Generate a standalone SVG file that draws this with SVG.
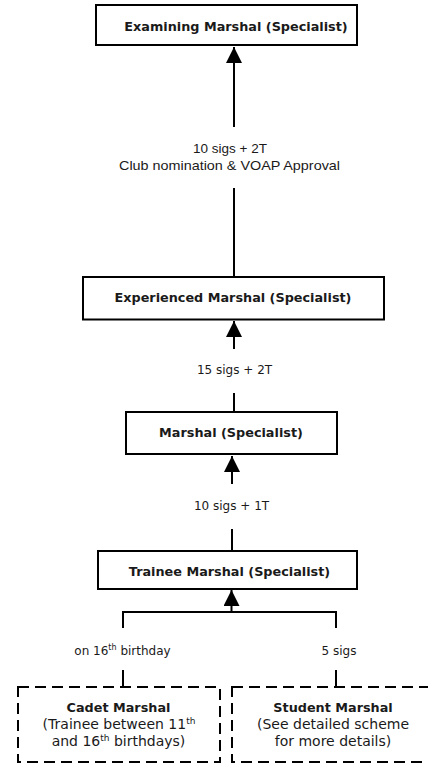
<svg xmlns="http://www.w3.org/2000/svg" width="428" height="763" viewBox="0 0 428 763">
<style>
.box{fill:#fff;stroke:#000;stroke-width:2}
.dbox{fill:#fff;stroke:#000;stroke-width:2;stroke-dasharray:11,6}
.t{font-family:"DejaVu Sans",Verdana,sans-serif;font-weight:bold;font-size:12.8px;fill:#1a1a1a;text-anchor:middle}
.r{font-family:"DejaVu Sans",Verdana,sans-serif;font-size:12px;fill:#1a1a1a;text-anchor:middle}
.b{font-family:"DejaVu Sans",Verdana,sans-serif;font-size:14px;fill:#1a1a1a;text-anchor:middle}
.c{font-family:"Liberation Sans",Arial,sans-serif;font-size:13.5px;fill:#1a1a1a;text-anchor:middle}
.ln{stroke:#000;stroke-width:2;fill:none}
</style>
<defs>
<marker id="ah" markerUnits="userSpaceOnUse" markerWidth="16" markerHeight="16" viewBox="0 0 16 16" refX="16" refY="8" orient="auto">
<path d="M0,0 L16,8 L0,16 Z" fill="#000"/>
</marker>
</defs>
<rect width="428" height="763" fill="#fff"/>
<g id="connectors">
<line class="ln" x1="234" y1="127" x2="234" y2="47" marker-end="url(#ah)"/>
<line class="ln" x1="234" y1="188" x2="234" y2="277"/>
<line class="ln" x1="234" y1="349" x2="234" y2="321" marker-end="url(#ah)"/>
<line class="ln" x1="234" y1="393" x2="234" y2="412"/>
<line class="ln" x1="232" y1="484" x2="232" y2="456" marker-end="url(#ah)"/>
<line class="ln" x1="232" y1="529" x2="232" y2="551"/>
<line class="ln" x1="231.5" y1="612" x2="231.5" y2="590" marker-end="url(#ah)"/>
<polyline class="ln" points="123,628 123,612 336,612 336,628"/>
<line class="ln" x1="123" y1="670" x2="123" y2="687"/>
<line class="ln" x1="336" y1="670" x2="336" y2="687"/>
<text class="c" x="230" y="153">10 sigs + 2T</text>
<text class="c" x="229.5" y="170" textLength="221" lengthAdjust="spacingAndGlyphs">Club nomination &amp; VOAP Approval</text>
<text class="r" x="234.5" y="374">15 sigs + 2T</text>
<text class="r" x="231.5" y="510">10 sigs + 1T</text>
<text class="r" x="122.5" y="655" font-size="12.8px">on 16<tspan dy="-5" font-size="8px">th</tspan><tspan dy="5"> birthday</tspan></text>
<text class="r" x="339" y="655" font-size="12.5px">5 sigs</text>
</g>
<g id="examining">
<rect class="box" x="96" y="5" width="261" height="40"/>
<text class="t" x="236" y="31">Examining Marshal (Specialist)</text>
</g>
<g id="experienced">
<rect class="box" x="83" y="277" width="301" height="42.5"/>
<text class="t" x="233" y="302">Experienced Marshal (Specialist)</text>
</g>
<g id="marshal">
<rect class="box" x="126" y="412" width="211" height="42"/>
<text class="t" x="231" y="437">Marshal (Specialist)</text>
</g>
<g id="trainee">
<rect class="box" x="98" y="551" width="259" height="38"/>
<text class="t" x="229.5" y="576">Trainee Marshal (Specialist)</text>
</g>
<g id="cadet">
<rect class="dbox" x="18" y="687" width="202" height="75"/>
<text class="t" x="118.5" y="712">Cadet Marshal</text>
<text class="b" x="119" y="729">(Trainee between 11<tspan dy="-5" font-size="9px">th</tspan></text>
<text class="b" x="118.5" y="746">and 16<tspan dy="-5" font-size="9px">th</tspan><tspan dy="5"> birthdays)</tspan></text>
</g>
<g id="student">
<rect class="dbox" x="232" y="687" width="202" height="75"/>
<text class="t" x="333" y="712">Student Marshal</text>
<text class="b" x="333" y="729">(See detailed scheme</text>
<text class="b" x="333" y="746">for more details)</text>
</g>
</svg>
